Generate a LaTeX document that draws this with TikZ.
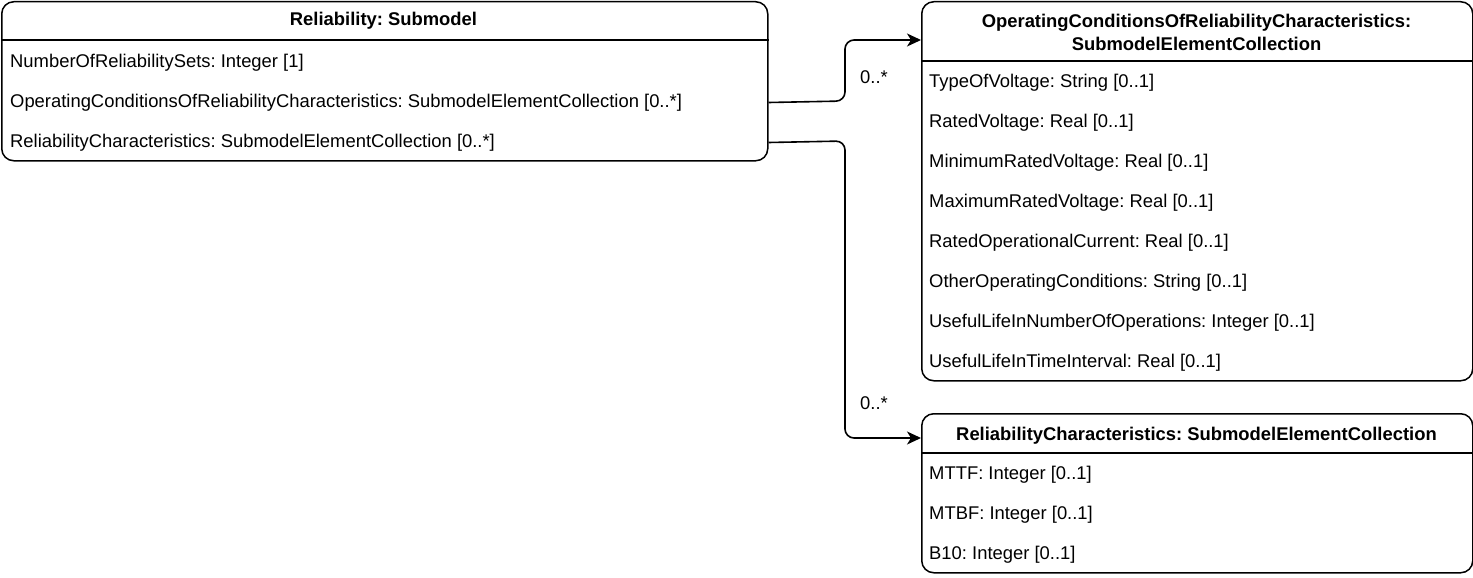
\documentclass[tikz,border=0pt]{standalone}
\usepackage{fontspec}
\setmainfont{Liberation Sans}
\usetikzlibrary{arrows.meta,calc}
\newcommand\fsz{\fontsize{18.4}{22}\selectfont}
\frenchspacing
\begin{document}
\begin{tikzpicture}[x=1pt,y=-1pt,
  box/.style={draw, line width=1.5pt, rounded corners=12pt, fill=white, inner sep=0pt, anchor=north west},
  divider/.style={line width=1.5pt},
  rowtxt/.style={anchor=west, inner sep=0pt, font=\fsz, yshift=-1.5pt},
  headtxt/.style={inner sep=0pt, font=\fsz\bfseries, align=center, yshift=-1pt},
  mult/.style={inner sep=0pt, font=\fsz},
  conn/.style={line width=1.6pt, rounded corners=9pt, -{Stealth[length=14pt,width=13pt,inset=4pt]}}
]
\useasboundingbox (0,0) rectangle (1473,578);

% Submodel box
\node[box, minimum width=766pt, minimum height=159pt] (sm) at (1,1) {};
\node[headtxt] (smh) at (383.5,20) {Reliability: Submodel};
\draw[divider] (sm.west |- 0,40) -- (sm.east |- 0,40);
\node[rowtxt] (s1) at (10,61) {NumberOfReliabilitySets: Integer [1]};
\node[rowtxt] (s2) at (10,101) {OperatingConditionsOfReliabilityCharacteristics: SubmodelElementCollection [0..*]};
\node[rowtxt] (s3) at (10,141) {ReliabilityCharacteristics: SubmodelElementCollection [0..*]};

% Operating conditions box
\node[box, minimum width=551pt, minimum height=379pt] (oc) at (921,1) {};
\node[headtxt] (och) at (1196.5,31) {OperatingConditionsOfReliabilityCharacteristics:\\[1pt]SubmodelElementCollection};
\draw[divider] (oc.west |- 0,61) -- (oc.east |- 0,61);
\node[rowtxt] (o1) at (929,81) {TypeOfVoltage: String [0..1]};
\node[rowtxt] (o2) at (929,121) {RatedVoltage: Real [0..1]};
\node[rowtxt] (o3) at (929,161) {MinimumRatedVoltage: Real [0..1]};
\node[rowtxt] (o4) at (929,201) {MaximumRatedVoltage: Real [0..1]};
\node[rowtxt] (o5) at (929,241) {RatedOperationalCurrent: Real [0..1]};
\node[rowtxt] (o6) at (929,281) {OtherOperatingConditions: String [0..1]};
\node[rowtxt] (o7) at (929,321) {UsefulLifeInNumberOfOperations: Integer [0..1]};
\node[rowtxt] (o8) at (929,361) {UsefulLifeInTimeInterval: Real [0..1]};

% Reliability characteristics box
\node[box, minimum width=551pt, minimum height=159pt] (rc) at (921,413) {};
\node[headtxt] (rch) at (1196.5,435) {ReliabilityCharacteristics: SubmodelElementCollection};
\draw[divider] (rc.west |- 0,453) -- (rc.east |- 0,453);
\node[rowtxt] (r1) at (929,473) {MTTF: Integer [0..1]};
\node[rowtxt] (r2) at (929,513) {MTBF: Integer [0..1]};
\node[rowtxt] (r3) at (929,553) {B10: Integer [0..1]};

% connectors
\coordinate (ocin) at (921,40);
\coordinate (rcin) at (921,438);
\draw[conn] (sm.east |- s2) -- (845,101) -- (845,40) -- (ocin);
\draw[conn] (sm.east |- s3) -- (845,141) -- (845,438) -- (rcin);
\node[mult] (m1) at (874,77) {0..*};
\node[mult] (m2) at (874,403) {0..*};
\end{tikzpicture}
\end{document}
